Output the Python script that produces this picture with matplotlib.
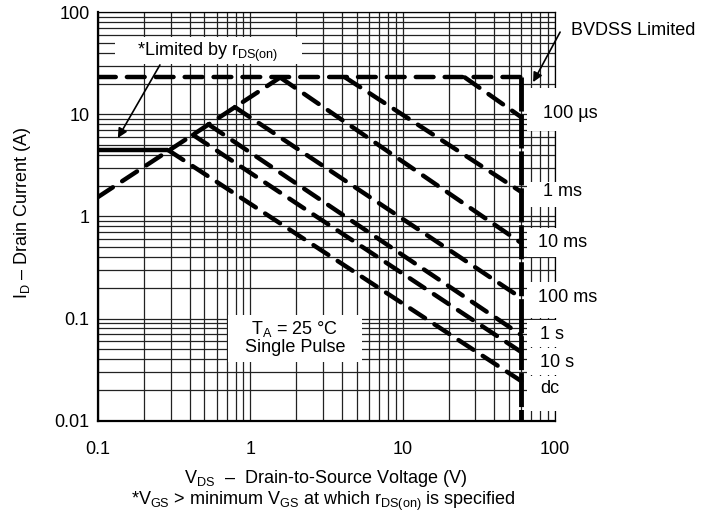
import matplotlib
matplotlib.use('Agg')
import matplotlib.pyplot as plt
from matplotlib.patches import Rectangle
from matplotlib.ticker import FixedLocator, LogLocator, NullFormatter, FuncFormatter

plt.rcParams['font.family'] = ['Liberation Sans', 'DejaVu Sans']
plt.rcParams['mathtext.fontset'] = 'custom'
plt.rcParams['mathtext.rm'] = 'Liberation Sans'
plt.rcParams['mathtext.it'] = 'Liberation Sans:italic'
plt.rcParams['mathtext.bf'] = 'Liberation Sans:bold'

# ---------------- data ----------------
x_ticks = [0.1, 1, 10, 100]
y_ticks = [0.01, 0.1, 1, 10, 100]

bvdss_v = 60          # BVDSS limit (V)
i_max = 23            # package current limit (A)

rds_v = [0.1, 1.57]   # r_DS(on) limit line
rds_i = [1.55, 23]

ron_solid_v = [0.1, 0.29]   # limited by r_DS(on), solid
ron_solid_i = [4.45, 4.45]

curve_labels = ["100 \u00b5s", "1 ms", "10 ms", "100 ms", "1 s", "10 s", "dc"]
start_v = [25.6, 4.2, 1.57, 0.79, 0.53, 0.42, 0.29]
start_i = [23, 23, 23, 11.8, 8.0, 6.3, 4.45]
end_i = [9.4, 1.74, 0.55, 0.159, 0.069, 0.047, 0.0244]

# label positions (layout)
label_x = [83.4, 83.4, 77.3, 77.3, 79.8, 79.8, 79.8]
label_y = [10.3, 1.74, 0.55, 0.159, 0.069, 0.0375, 0.0204]

FS = 13

# ---------------- figure ----------------
fig = plt.figure(figsize=(7.03, 5.15), dpi=100)
ax = fig.add_axes([0.1394, 0.1833, 0.6501, 0.7928])
ax.set_xscale('log')
ax.set_yscale('log')
ax.set_xlim(0.1, 100)
ax.set_ylim(0.01, 100)

ax.xaxis.set_major_locator(FixedLocator(x_ticks))
ax.yaxis.set_major_locator(FixedLocator(y_ticks))
ax.xaxis.set_minor_locator(LogLocator(base=10, subs=range(2, 10), numticks=50))
ax.yaxis.set_minor_locator(LogLocator(base=10, subs=range(2, 10), numticks=50))
ax.xaxis.set_minor_formatter(NullFormatter())
ax.yaxis.set_minor_formatter(NullFormatter())
fmt = FuncFormatter(lambda v, p: '%g' % v)
ax.xaxis.set_major_formatter(fmt)
ax.yaxis.set_major_formatter(fmt)
ax.tick_params(which='both', length=0, labelsize=FS)
ax.tick_params(axis='x', pad=15)
ax.tick_params(axis='y', pad=6)

ax.set_axisbelow(True)
ax.grid(True, which='both', color='#222222', lw=0.9)
for s in ['left', 'bottom']:
    ax.spines[s].set_linewidth(1.6)
for s in ['top', 'right']:
    ax.spines[s].set_linewidth(0.9)

# white masks behind text (axes fraction)
masks = [
    (0.2845, 0.1435, 0.2932, 0.1151),   # T_A box
    (0.0372, 0.8734, 0.4092, 0.0661),   # Limited by box
]
right_boxes_px = [(88, 131), (182, 207), (228, 257), (282, 318), (320, 347), (348, 375), (376, 411)]
for (t, b) in right_boxes_px:
    y0 = (420.6 - b) / 408.3
    y1 = (420.6 - t) / 408.3
    masks.append((0.9387, y0, 0.08, y1 - y0))
for (x0, y0, w, h) in masks:
    ax.add_patch(Rectangle((x0, y0), w, h, transform=ax.transAxes,
                           facecolor='white', edgecolor='none', zorder=2.6,
                           clip_on=False))

lw = 3.2
dash_kw = dict(color='black', lw=lw, dashes=(4.0, 2.5), dash_capstyle='round',
               solid_capstyle='round', zorder=3)

# current limit horizontal
ax.plot([0.1, bvdss_v], [i_max, i_max], **dash_kw)
# BVDSS vertical
ax.plot([bvdss_v, bvdss_v], [i_max, 0.01], color='black', lw=lw + 0.3,
        dashes=(7, 0.6), dash_capstyle='butt', zorder=3)
# r_DS(on) line
ax.plot(rds_v, rds_i, **dash_kw)
ax.plot(ron_solid_v, ron_solid_i, color='black', lw=lw, solid_capstyle='butt', zorder=3)

for sv, si, ei in zip(start_v, start_i, end_i):
    ax.plot([sv, bvdss_v], [si, ei], **dash_kw)

for lab, lx, ly in zip(curve_labels, label_x, label_y):
    ax.text(lx, ly, lab, ha='left', va='center', fontsize=FS, zorder=4, clip_on=False)

# annotations
ax.text(0.527, 40.8, r'*Limited by r$_\mathrm{DS(on)}$', ha='center', va='center',
        fontsize=FS, zorder=4)
ax.annotate('', xy=(0.135, 5.87), xytext=(0.255, 30.5),
            arrowprops=dict(arrowstyle='-|>', color='black', lw=1.2,
                            mutation_scale=14, shrinkA=0, shrinkB=0), zorder=4)
ax.text(325, 67, 'BVDSS Limited', ha='center', va='center', fontsize=FS,
        zorder=4, clip_on=False)
ax.annotate('', xy=(71.8, 20.7), xytext=(108, 64),
            arrowprops=dict(arrowstyle='-|>', color='black', lw=1.2,
                            mutation_scale=14, shrinkA=0, shrinkB=0),
            zorder=4, annotation_clip=False)

ax.text(1.96, 0.0645, 'T$_\\mathrm{A}$ = 25 \u00b0C\nSingle Pulse', ha='center',
        va='center', multialignment='center', fontsize=FS, zorder=4,
        linespacing=1.0)

ax.set_xlabel('V$_\\mathrm{DS}$  \u2013  Drain-to-Source Voltage (V)', fontsize=FS, va='center')
ax.xaxis.set_label_coords(0.497, -0.142)
ax.text(0.493, -0.198, r'*V$_\mathrm{GS}$ > minimum V$_\mathrm{GS}$ at which r$_\mathrm{DS(on)}$ is specified',
        transform=ax.transAxes, ha='center', va='center', fontsize=FS)
ax.set_ylabel('I$_\\mathrm{D}$ \u2013 Drain Current (A)', fontsize=FS, va='center')
ax.yaxis.set_label_coords(-0.166, 0.51)

fig.savefig('out.png', dpi=100)
